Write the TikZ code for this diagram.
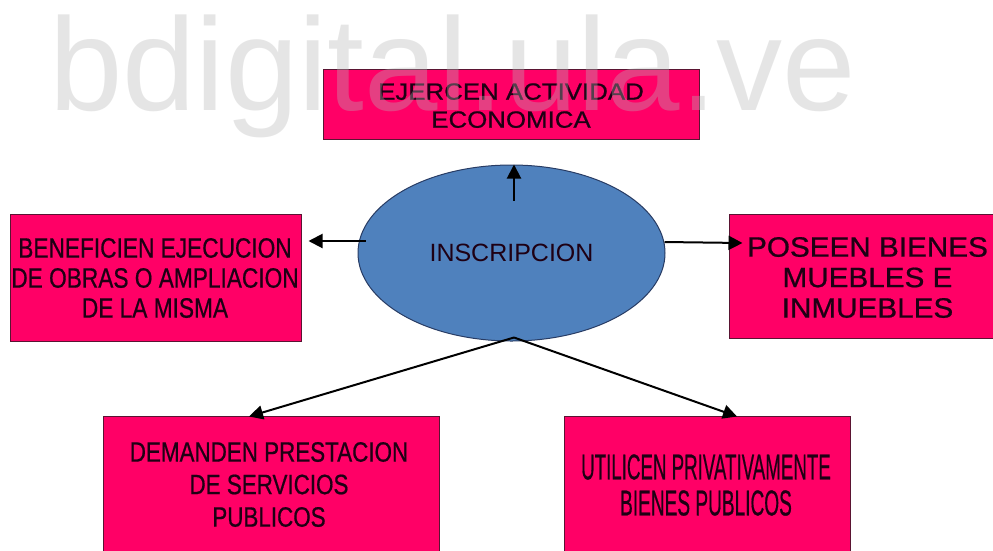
\documentclass[tikz,border=0pt]{standalone}
\usepackage{fontspec}
\setmainfont{Liberation Sans}
\newfontfamily\boxfont{Liberation Sans}[FakeBold=0.7]
\usetikzlibrary{arrows.meta,calc,shapes.geometric}
\definecolor{boxpink}{RGB}{255,0,102}
\definecolor{boxedge}{RGB}{90,20,50}
\definecolor{ellfill}{RGB}{79,129,189}
\definecolor{elledge}{RGB}{40,60,100}
\definecolor{txt}{RGB}{30,0,20}
\definecolor{wm}{RGB}{183,183,183}
\newcommand{\hs}[2]{\scalebox{#1}[1]{#2}}
\begin{document}
\begin{tikzpicture}[x=1pt,y=-1pt,
 box/.style={draw=boxedge, line width=1pt, fill=boxpink, rectangle, inner sep=0},
 lbl/.style={text=txt, align=center, inner sep=0},
 arr/.style={line width=2pt, -{Triangle[length=14pt,width=14pt]}}]
\useasboundingbox (0,0) rectangle (993,550);
\clip (0,0) rectangle (993,550);
\fill[white] (0,0) rectangle (993,550);
% boxes
\node[box, minimum width=376, minimum height=70] (top) at (511,104) {};
\node[box, minimum width=291, minimum height=127] (lb) at (155.5,277.5) {};
\node[box, minimum width=274, minimum height=124] (rb) at (866,276) {};
\node[box, minimum width=336, minimum height=154] (bl) at (271,493) {};
\node[box, minimum width=286, minimum height=154] (br) at (707,493) {};
% texts
\node[lbl, font=\boxfont\fontsize{23.5}{28}\selectfont] (ttop) at (511,105.6) {\hs{1.1}{EJERCEN ACTIVIDAD}\\\hs{1.1}{ECONOMICA}};
\node[lbl, font=\boxfont\fontsize{28}{30}\selectfont] (tlb) at (155,278) {\hs{.81}{BENEFICIEN EJECUCION}\\\hs{.81}{DE OBRAS O AMPLIACION}\\\hs{.81}{DE LA MISMA}};
\node[lbl, font=\boxfont\fontsize{28}{30.5}\selectfont] (trb) at (867.5,277.5) {\hs{1.06}{POSEEN BIENES}\\\hs{1.06}{MUEBLES E}\\\hs{1.06}{INMUEBLES}};
\node[lbl, font=\boxfont\fontsize{28}{32.5}\selectfont] (tbl) at (269,484.5) {\hs{.8}{DEMANDEN PRESTACION}\\\hs{.8}{DE SERVICIOS}\\\hs{.8}{PUBLICOS}};
\node[lbl, font=\boxfont\fontsize{36}{36}\selectfont] (tbr) at (706,485) {\hs{.52}{UTILICEN PRIVATIVAMENTE}\\\hs{.53}{BIENES PUBLICOS}};
% ellipse
\node[ellipse, draw=elledge, line width=1pt, fill=ellfill, minimum width=307, minimum height=176, inner sep=0, text=txt, font=\fontsize{25}{30}\selectfont] (ell) at (511.5,253) {INSCRIPCION};
% arrows
\draw[arr] ($(ell.north)+(2.5,36)$) -- ($(ell.north)+(2.5,0)$);
\draw[arr] ($(lb.east)+(64,-36.5)$) -- ($(lb.east)+(7,-36.5)$);
\draw[arr] ($(rb.west)+(-64,-34)$) -- ($(rb.west)+(14,-33)$);
\draw[arr] ($(ell.south)+(2.5,-4)$) -- ($(bl.north)+(-22,1)$);
\draw[arr] ($(ell.south)+(2.5,-4)$) -- ($(br.north)+(30,1)$);
% watermark
\node[anchor=base west, text=wm, text opacity=.35, font=\fontsize{132}{132}\selectfont, inner sep=0] (wmark) at (49,110) {bdigital.ula.ve};
\end{tikzpicture}
\end{document}
